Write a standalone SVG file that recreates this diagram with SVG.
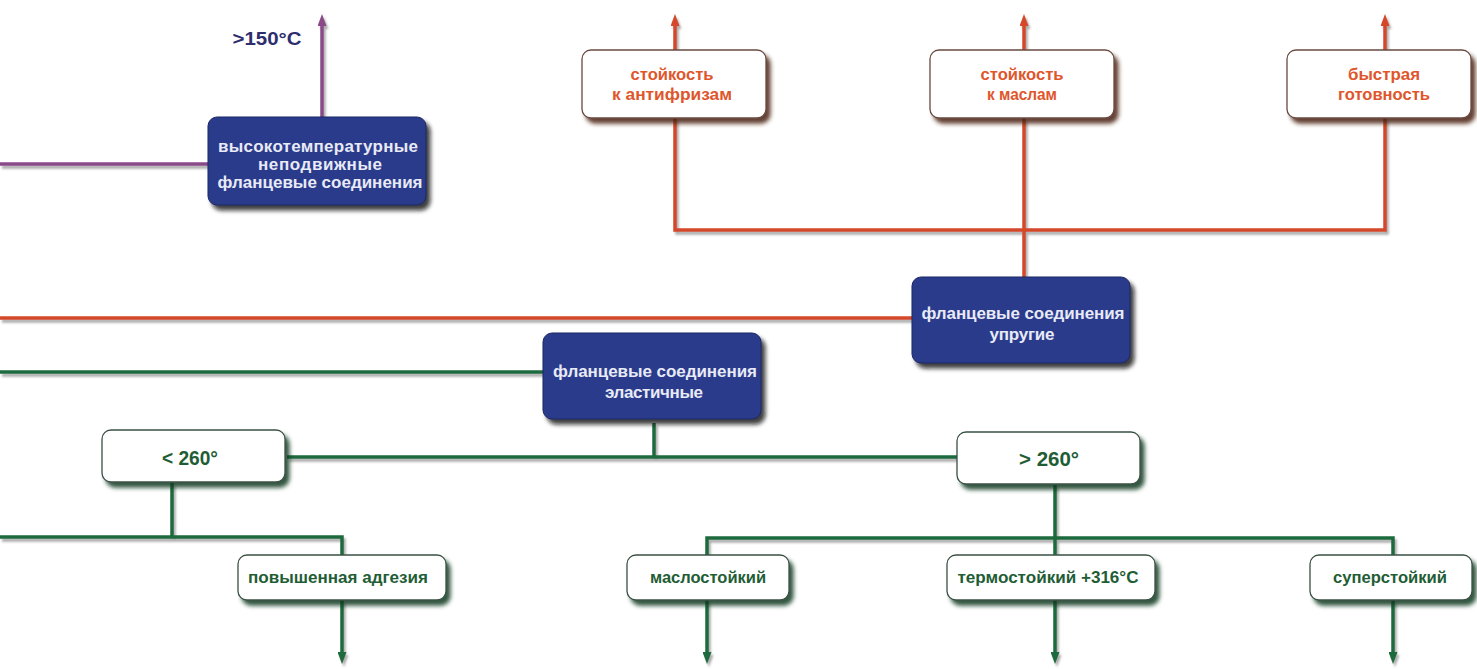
<svg xmlns="http://www.w3.org/2000/svg" width="1477" height="669" viewBox="0 0 1477 669">
<defs>
<style>
.ln{fill:none;stroke-width:3.5;stroke-linejoin:miter;stroke-linecap:butt}
.r{stroke:#d4472a}
.g{stroke:#1e6a3c}
.p{stroke:#8a4a88}
.dn{fill:#2c3b8c;stroke:#1c2660;stroke-width:1}
.dt{font-family:"Liberation Sans",Arial,sans-serif;font-weight:bold;font-size:17px;fill:#e8eaf6;text-anchor:middle}
.wr{fill:#ffffff;stroke:#6a4a40;stroke-width:1.3}
.wg{fill:#ffffff;stroke:#3a5244;stroke-width:1.3}
.rt{font-family:"Liberation Sans",Arial,sans-serif;font-weight:bold;font-size:17px;fill:#e0562c;text-anchor:middle}
.gt{font-family:"Liberation Sans",Arial,sans-serif;font-weight:bold;font-size:16px;fill:#1f5d35;text-anchor:middle}
.gb{font-family:"Liberation Sans",Arial,sans-serif;font-weight:bold;font-size:21px;fill:#1f5d35;text-anchor:middle}
.pt{font-family:"Liberation Sans",Arial,sans-serif;font-weight:bold;font-size:18px;fill:#2e2d6e;text-anchor:middle}
</style>
<filter id="shL" filterUnits="userSpaceOnUse" x="0" y="0" width="1477" height="669">
<feDropShadow dx="2" dy="3" stdDeviation="1.2" flood-color="#444" flood-opacity="0.45"/>
</filter>
<filter id="shD" filterUnits="userSpaceOnUse" x="0" y="0" width="1477" height="669">
<feDropShadow dx="4" dy="5" stdDeviation="2" flood-color="#111" flood-opacity="0.8"/>
</filter>
<filter id="shR" filterUnits="userSpaceOnUse" x="0" y="0" width="1477" height="669">
<feDropShadow dx="4" dy="5" stdDeviation="2" flood-color="#4a1a10" flood-opacity="0.85"/>
</filter>
<filter id="shG" filterUnits="userSpaceOnUse" x="0" y="0" width="1477" height="669">
<feDropShadow dx="4" dy="5" stdDeviation="2" flood-color="#0f3a1e" flood-opacity="0.85"/>
</filter>
<marker id="aR" viewBox="0 0 12 9" refX="2" refY="4.5" markerWidth="12" markerHeight="9" markerUnits="userSpaceOnUse" orient="auto"><path d="M0,0 L12,4.5 L0,9 z" fill="#d4472a"/></marker>
<marker id="aG" viewBox="0 0 12 9" refX="2" refY="4.5" markerWidth="12" markerHeight="9" markerUnits="userSpaceOnUse" orient="auto"><path d="M0,0 L12,4.5 L0,9 z" fill="#1e6a3c"/></marker>
<marker id="aP" viewBox="0 0 12 9" refX="2" refY="4.5" markerWidth="12" markerHeight="9" markerUnits="userSpaceOnUse" orient="auto"><path d="M0,0 L12,4.5 L0,9 z" fill="#8a4a88"/></marker>
</defs>
<rect width="1477" height="669" fill="#ffffff"/>

<g id="connectors" filter="url(#shL)">
<path class="ln p" d="M0,164 H208"/>
<path class="ln p" d="M322,117 V24" marker-end="url(#aP)"/>
<path class="ln r" d="M0,318 H912"/>
<path class="ln r" d="M675,118 V230 H1385 V118"/>
<path class="ln r" d="M1024,118 V277"/>
<path class="ln r" d="M675,50 V24" marker-end="url(#aR)"/>
<path class="ln r" d="M1024,50 V24" marker-end="url(#aR)"/>
<path class="ln r" d="M1385,50 V24" marker-end="url(#aR)"/>
<path class="ln g" d="M0,372 H543"/>
<path class="ln g" d="M654,423 V457"/>
<path class="ln g" d="M287,457 H957"/>
<path class="ln g" d="M172,483 V537"/>
<path class="ln g" d="M0,537 H342 V555"/>
<path class="ln g" d="M1055,485 V555"/>
<path class="ln g" d="M707,555 V538 H1393 V555"/>
<path class="ln g" d="M342,600 V654" marker-end="url(#aG)"/>
<path class="ln g" d="M707,600 V654" marker-end="url(#aG)"/>
<path class="ln g" d="M1055,600 V654" marker-end="url(#aG)"/>
<path class="ln g" d="M1393,600 V654" marker-end="url(#aG)"/>
</g>

<g id="label-150">
<text class="pt" x="267" y="45" textLength="69" lengthAdjust="spacingAndGlyphs">&gt;150°C</text>
</g>

<g id="node-hightemp">
<rect class="dn" x="208" y="117" width="218" height="88" rx="9" filter="url(#shD)"/>
<text class="dt" x="318" y="152" textLength="200" lengthAdjust="spacing">высокотемпературные</text>
<text class="dt" x="320" y="170" textLength="124" lengthAdjust="spacing">неподвижные</text>
<text class="dt" x="320" y="188" textLength="205" lengthAdjust="spacing">фланцевые соединения</text>
</g>

<g id="node-antifreeze">
<rect class="wr" x="582" y="50" width="184" height="68" rx="9" filter="url(#shR)"/>
<text class="rt" x="672" y="80" textLength="83" lengthAdjust="spacingAndGlyphs">стойкость</text>
<text class="rt" x="672" y="100" textLength="120" lengthAdjust="spacingAndGlyphs">к антифризам</text>
</g>

<g id="node-oils">
<rect class="wr" x="930" y="50" width="184" height="68" rx="9" filter="url(#shR)"/>
<text class="rt" x="1022" y="80" textLength="83" lengthAdjust="spacingAndGlyphs">стойкость</text>
<text class="rt" x="1022" y="100" textLength="70" lengthAdjust="spacingAndGlyphs">к маслам</text>
</g>

<g id="node-fast">
<rect class="wr" x="1287" y="50" width="184" height="68" rx="9" filter="url(#shR)"/>
<text class="rt" x="1384" y="80" textLength="72" lengthAdjust="spacingAndGlyphs">быстрая</text>
<text class="rt" x="1384" y="100" textLength="92" lengthAdjust="spacingAndGlyphs">готовность</text>
</g>

<g id="node-elastic-upr">
<rect class="dn" x="912" y="277" width="218" height="86" rx="9" filter="url(#shD)"/>
<text class="dt" x="1023" y="319" textLength="203" lengthAdjust="spacing">фланцевые соединения</text>
<text class="dt" x="1022" y="340" textLength="65" lengthAdjust="spacing">упругие</text>
</g>

<g id="node-elastic">
<rect class="dn" x="543" y="333" width="218" height="86" rx="9" filter="url(#shD)"/>
<text class="dt" x="655" y="377" textLength="204" lengthAdjust="spacing">фланцевые соединения</text>
<text class="dt" x="654" y="398" textLength="98" lengthAdjust="spacing">эластичные</text>
</g>

<g id="node-lt260">
<rect class="wg" x="102" y="430" width="183" height="52" rx="9" filter="url(#shG)"/>
<text class="gb" x="190" y="465" textLength="56" lengthAdjust="spacingAndGlyphs">&lt; 260°</text>
</g>

<g id="node-gt260">
<rect class="wg" x="957" y="432" width="183" height="52" rx="9" filter="url(#shG)"/>
<text class="gb" x="1049" y="466" textLength="60" lengthAdjust="spacingAndGlyphs">&gt; 260°</text>
</g>

<g id="node-adhesion">
<rect class="wg" x="238" y="555" width="208" height="45" rx="9" filter="url(#shG)"/>
<text class="gt" x="338" y="583" textLength="180" lengthAdjust="spacingAndGlyphs">повышенная адгезия</text>
</g>

<g id="node-oilres">
<rect class="wg" x="627" y="555" width="162" height="45" rx="9" filter="url(#shG)"/>
<text class="gt" x="708" y="583" textLength="116" lengthAdjust="spacingAndGlyphs">маслостойкий</text>
</g>

<g id="node-thermo">
<rect class="wg" x="947" y="555" width="208" height="45" rx="9" filter="url(#shG)"/>
<text class="gt" x="1048" y="583" textLength="181" lengthAdjust="spacingAndGlyphs">термостойкий +316°С</text>
</g>

<g id="node-super">
<rect class="wg" x="1310" y="555" width="162" height="45" rx="9" filter="url(#shG)"/>
<text class="gt" x="1390" y="583" textLength="114" lengthAdjust="spacingAndGlyphs">суперстойкий</text>
</g>
</svg>
